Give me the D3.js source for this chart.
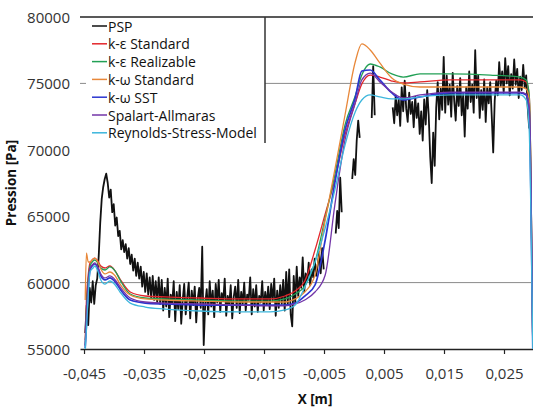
<!DOCTYPE html>
<html>
<head>
<meta charset="utf-8">
<script src="https://cdn.jsdelivr.net/npm/d3@7"></script>
<style>
  html, body { margin: 0; padding: 0; background: #fff; }
  svg { display: block; font-family: "Open Sans", "DejaVu Sans", sans-serif; }
</style>
</head>
<body>
<svg id="chart" width="533" height="412"></svg>
<script>
// ---- Axis ticks ----
const xTicks = [-0.045, -0.035, -0.025, -0.015, -0.005, 0.005, 0.015, 0.025];
const yTicks = [55000, 60000, 65000, 70000, 75000, 80000];
const gridValues = [60000, 75000];

// ---- Series names and colours ----
const seriesNames = ["PSP", "k-\u03b5 Standard", "k-\u03b5 Realizable", "k-\u03c9 Standard",
                     "k-\u03c9 SST", "Spalart-Allmaras", "Reynolds-Stress-Model"];
const seriesColors = ["#111111", "#e3262b", "#22a055", "#e8883a", "#2b35d0", "#7336a8", "#3cb6dc"];

// ---- PSP measurement: pressure [Pa] sampled every 0.00025 m from x = -0.0448 m (null = no data) ----
const pspStartX = -0.0448;
const pspStepX = 0.00025;
const pspP = [
  56200, 58300, 56800,
  59600, 58500, 60100, 58400, 59800, 60300,
  62000, 64500, 66300, 67200, 67800, 68200,
  67500, 66400, 67000, 65300, 65900, 64300, 64900, 63500, 63900, 62500,
  63200, 62300, 62900, 61800, 62600, 61400, 62100, 60900, 61800, 60500,
  61500, 60300, 61200, 59700, 60800, 59300, 60700, 59100, 60400, 58800,
  60500, 58700, 60100, 58500, 60400, 58400,
  60200, 57900, 59600, 58200, 60300, 57400, 59100, 58400, 60100, 57100,
  59300, 58000, 59800, 56900, 58700, 59900, 57600, 58900, 60000, 57300,
  59400, 58300, 59700, 57000, 58800, 59600, 58100, 62700, 55300, 58400,
  59500, 57600, 60100, 58200, 59400, 57400, 59900, 58500, 60200, 57800,
  59200, 58600, 60300, 57500, 59000, 58300, 59800, 57300, 58900, 59700,
  58100, 60200, 57700, 59300, 58400, 60000, 57900, 59100, 58700, 60400,
  57600, 59500, 58200, 59800, 57800, 59000, 58500, 60100, 57900, 59300,
  58300, 59700, 58000, 59900, 58600, 60300, 57500, 59400, 58100, 59800,
  58400, 60200, 57900, 60800, 58300, 61000, 57600, 56700, 60500, 58500,
  61200, 59000, 60400,
  59600, 61900, 59300, 60700, 60100, 61500, 59800, 61000, 60400, 61800,
  60500, 61300, 62300, 60700, 62600, 61000,
  null, null, null, null, null, null, null,
  63700, 65400, 64100, 67900, 65300,
  null, null, null, null, null, null,
  67800, 69300, 68100, 70700, 72200, 70900,
  null, null, null, null, null, null, null,
  72400, 76300, 72600,
  null, null, null, null, null, null, null, null, null, null, null,
  73200, 72000, 74100, 72600, 73800, 71800, 74700, 72900, 75200, 73100,
  72100, 74300, 72700, 73600, 71700, 74000, 72400, 73500, 71200, 72900,
  70700, 73800, 71900, 74500, 72600, 69500, 67500, 71300, 68800, 73200,
  75100, 72300, 74600, 73000, 77000, 72800, 75600, 73400, 74900, 72500,
  75800, 73700, 72200, 74800, 73300, 75400, 72600, 74200, 71000, 74700,
  73100, 75900, 73600, 74900, 72800, 77500, 73900, 75600, 72400, 74500,
  73000, 75300, 72100, 74700, 73500, 75100, 72600, 69800, 73700, 75200,
  74100, 76600, 74800, 75900, 74300, 76900, 75000, 76300, 74100, 75700,
  74600, 76800, 74900, 76100, 73900, 75500, 74500, 76400, 74700, 75600,
  73200, 71600
];

// ---- CFD models: pressure [Pa] at shared positions modelX [m] ----
const modelX = [-0.0448, -0.0446, -0.0443, -0.0440, -0.0435, -0.0432, -0.0427, -0.0422, -0.0415, -0.0407,
                -0.0398, -0.0390, -0.0373, -0.0348, -0.0315, -0.0257, -0.0190, -0.0140, -0.0115, -0.0098,
                -0.0082, -0.0065, -0.0048, -0.0032, -0.0015, 0.0002, 0.0013, 0.0027, 0.0043, 0.0063,
                0.0082, 0.0110, 0.0160, 0.0227, 0.0277, 0.0287, 0.0292, 0.0295, 0.0298];

const kEpsStandard = [55680, 58690, 60570, 61480, 61770, 61850, 61630, 61250, 61100, 61250,
                      60870, 60270, 59290, 58990, 58920, 58840, 58770, 58770, 58990, 59370,
                      60120, 62450, 65170, 67730, 71120, 73520, 74950, 75630, 75480, 75180,
                      75030, 75110, 75260, 75260, 75260, 75110, 74130, 67730, 55000];

const kEpsRealizable = [55300, 57940, 60200, 61250, 61630, 61700, 61480, 61100, 60950, 61180,
                        60870, 60200, 59140, 58840, 58770, 58690, 58610, 58610, 58770, 59140,
                        59740, 61550, 64870, 68100, 71870, 74050, 75630, 76460, 76240, 75710,
                        75480, 75710, 75710, 75630, 75480, 75260, 74130, 67730, 55000];

const kOmegaStandard = [58690, 62230, 61550, 61550, 61770, 61850, 61550, 61020, 60650, 60800,
                        60500, 59890, 59070, 58770, 58690, 58610, 58540, 58540, 58540, 58770,
                        59290, 60570, 64710, 68480, 72620, 76610, 77970, 77520, 76540, 75410,
                        74950, 74730, 74730, 74730, 74730, 74580, 73750, 67730, 55000];

const kOmegaSST = [55080, 56810, 59440, 60950, 61330, 61400, 61100, 60500, 60200, 60350,
                   60050, 59520, 58690, 58460, 58390, 58310, 58310, 58310, 58310, 58460,
                   58990, 59820, 63210, 67500, 71490, 73900, 75930, 76010, 75260, 74280,
                   73750, 73980, 74280, 74280, 74280, 74130, 73000, 66220, 55000];

const spalartAllmaras = [55230, 57560, 59820, 61100, 61400, 61480, 61180, 60650, 60350, 60500,
                         60200, 59670, 58840, 58540, 58460, 58390, 58310, 58240, 58240, 58390,
                         58690, 59290, 60570, 65840, 70740, 73520, 75260, 75780, 75110, 74350,
                         73900, 74130, 74350, 74350, 74350, 74200, 73150, 66600, 55000];

const reynoldsStress = [55000, 56430, 59070, 60800, 61100, 61250, 60870, 60200, 59890, 60120,
                        59820, 59290, 58460, 58160, 58010, 57860, 57790, 57790, 57940, 58310,
                        59670, 61550, 64110, 66970, 70360, 72850, 73750, 74130, 73980, 73830,
                        73830, 73980, 74130, 74130, 74130, 73750, 71490, 64710, 55000];

const modelSeries = [kEpsStandard, kEpsRealizable, kOmegaStandard, kOmegaSST, spalartAllmaras, reynoldsStress];

// ---- Layout ----
const svg = d3.select("#chart");
const plot = { left: 80, right: 534, top: 17, bottom: 349 };

const x = d3.scaleLinear().domain([-0.04567, 0.03]).range([plot.left, plot.right]);
const y = d3.scaleLinear().domain([55000, 80000]).range([plot.bottom, plot.top]);

const commaLocale = d3.formatLocale({ decimal: ",", thousands: "", grouping: [3], currency: ["", ""], minus: "-" });
const fmtX = commaLocale.format(".3f");
const fmtY = commaLocale.format("d");

svg.append("defs").append("clipPath").attr("id", "plot-clip")
  .append("rect")
  .attr("x", plot.left).attr("y", plot.top - 1)
  .attr("width", plot.right - plot.left).attr("height", plot.bottom - plot.top + 1);

// horizontal gridlines
svg.append("g").selectAll("line").data(gridValues).join("line")
  .attr("x1", plot.left).attr("x2", plot.right)
  .attr("y1", d => y(d)).attr("y2", d => y(d))
  .attr("stroke", "#8a8a8a").attr("stroke-width", 1);

// top frame line at the axis maximum
svg.append("line")
  .attr("x1", plot.left).attr("x2", plot.right)
  .attr("y1", y(80000)).attr("y2", y(80000))
  .attr("stroke", "#222").attr("stroke-width", 1.5);

// y tick labels (no axis line)
svg.append("g").selectAll("text").data(yTicks).join("text")
  .attr("x", 70).attr("y", d => y(d))
  .attr("text-anchor", "end").attr("dominant-baseline", "central")
  .attr("font-size", 15).attr("fill", "#333")
  .text(d => fmtY(d));

// x axis
const xAxis = d3.axisBottom(x).tickValues(xTicks).tickFormat(fmtX)
  .tickSizeInner(5).tickSizeOuter(0).tickPadding(14);
const gx = svg.append("g").attr("transform", `translate(0,${plot.bottom})`).call(xAxis);
gx.select(".domain").attr("stroke", "#222").attr("stroke-width", 1.5);
gx.selectAll(".tick line").attr("stroke", "#222").attr("stroke-width", 1.2);
gx.selectAll(".tick text").attr("font-size", 15).attr("fill", "#333")
  .attr("font-family", "\"Open Sans\", sans-serif");

// axis titles
svg.append("text")
  .attr("transform", `translate(16,${(plot.top + plot.bottom) / 2}) rotate(-90)`)
  .attr("text-anchor", "middle")
  .attr("font-size", 13.5).attr("font-weight", "bold").attr("fill", "#111")
  .text("Pression [Pa]");

svg.append("text")
  .attr("x", 315).attr("y", 404)
  .attr("text-anchor", "middle")
  .attr("font-size", 13.5).attr("font-weight", "bold").attr("fill", "#111")
  .text("X [m]");

// ---- data lines ----
const lines = svg.append("g").attr("clip-path", "url(#plot-clip)");

const pspPoints = pspP.map((p, i) => ({ x: pspStartX + i * pspStepX, p }));
const pspLine = d3.line()
  .defined(d => d.p !== null)
  .x(d => x(d.x)).y(d => y(d.p));
lines.append("path")
  .attr("d", pspLine(pspPoints))
  .attr("fill", "none").attr("stroke", seriesColors[0])
  .attr("stroke-width", 1.8).attr("stroke-linejoin", "round");

const modelLine = d3.line()
  .x((d, i) => x(modelX[i])).y(d => y(d))
  .curve(d3.curveMonotoneX);

modelSeries.forEach((vals, k) => {
  lines.append("path")
    .attr("d", modelLine(vals))
    .attr("fill", "none").attr("stroke", seriesColors[k + 1])
    .attr("stroke-width", k === 3 ? 1.7 : 1.3);
});

// ---- legend ----
const legend = svg.append("g");
legend.append("rect")
  .attr("x", 86).attr("y", plot.top + 1).attr("width", 179).attr("height", 125)
  .attr("fill", "#fff");
legend.append("line")
  .attr("x1", 265).attr("x2", 265).attr("y1", plot.top).attr("y2", 143)
  .attr("stroke", "#333").attr("stroke-width", 1.5);

const items = legend.selectAll("g.item").data(seriesNames).join("g")
  .attr("class", "item")
  .attr("transform", (d, i) => `translate(0,${26 + i * 17.8})`);
items.append("line")
  .attr("x1", 92).attr("x2", 107).attr("y1", 0).attr("y2", 0)
  .attr("stroke", (d, i) => seriesColors[i]).attr("stroke-width", 1.5);
items.append("text")
  .attr("x", 108).attr("y", 0).attr("dominant-baseline", "central")
  .attr("font-size", 14).attr("fill", "#111")
  .text(d => d);
</script>
</body>
</html>
